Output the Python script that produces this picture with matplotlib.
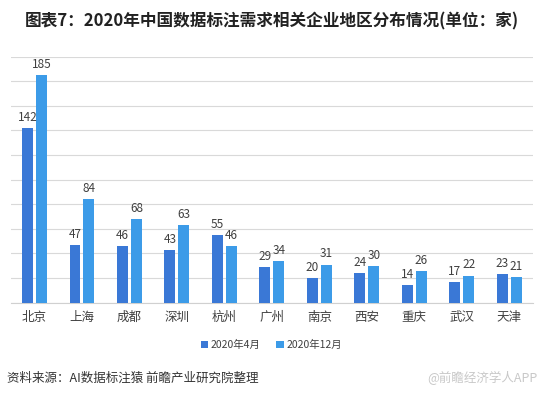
import numpy as np
import matplotlib.pyplot as plt

plt.rcParams['font.family'] = ['Noto Sans CJK SC', 'DejaVu Sans']

# 数据
cities = ["北京", "上海", "成都", "深圳", "杭州", "广州", "南京", "西安", "重庆", "武汉", "天津"]
apr_2020 = [142, 47, 46, 43, 55, 29, 20, 24, 14, 17, 23]
dec_2020 = [185, 84, 68, 63, 46, 34, 31, 30, 26, 22, 21]
series_names = ["2020年4月", "2020年12月"]

c_apr = "#3a78d6"
c_dec = "#3c9be8"

fig = plt.figure(figsize=(5.43, 3.99), dpi=100)
ax = fig.add_axes([0.0198, 0.2414, 0.9618, 0.6166])

x = np.arange(len(cities))
w = 0.23
off = 0.147
b1 = ax.bar(x - off, apr_2020, w, color=c_apr, label=series_names[0], zorder=3)
b2 = ax.bar(x + off, dec_2020, w, color=c_dec, label=series_names[1], zorder=3)

for bars in (b1, b2):
    for r in bars:
        ax.annotate(f"{int(r.get_height())}", (r.get_x() + r.get_width() / 2, r.get_height()),
                    xytext=(0, 3), textcoords="offset points", ha="center", va="bottom",
                    fontsize=8.5, color="#404040")

ax.set_xlim(-0.5, len(cities) - 0.5)
ax.set_ylim(0, 200)
ax.set_yticks(np.arange(0, 201, 20))
ax.yaxis.grid(True, color="#d9d9d9", linewidth=0.8, zorder=0)
ax.tick_params(axis="y", left=False, labelleft=False)
ax.set_xticks(x)
ax.set_xticklabels(cities, fontsize=9, color="#404040")
ax.tick_params(axis="x", length=0, pad=6)
for s in ("top", "right", "left"):
    ax.spines[s].set_visible(False)
ax.spines["bottom"].set_color("#d0d0d0")

fig.text(0.5, 0.945, "图表7：2020年中国数据标注需求相关企业地区分布情况(单位：家)",
         ha="center", va="center", fontsize=12, fontweight="bold", color="#222222")

fig.legend(handles=[b1, b2], labels=series_names, loc="center", bbox_to_anchor=(0.5, 0.135),
           ncol=2, frameon=False, fontsize=7.5, handlelength=0.7, handleheight=0.7,
           handletextpad=0.3, columnspacing=1.5, labelcolor="#404040")

fig.text(0.013, 0.052, "资料来源：AI数据标注猿 前瞻产业研究院整理", ha="left", va="center",
         fontsize=9, color="#333333")
fig.text(0.99, 0.052, "@前瞻经济学人APP", ha="right", va="center",
         fontsize=9, color="#c8c8c8")

fig.savefig("out.png", dpi=100)
